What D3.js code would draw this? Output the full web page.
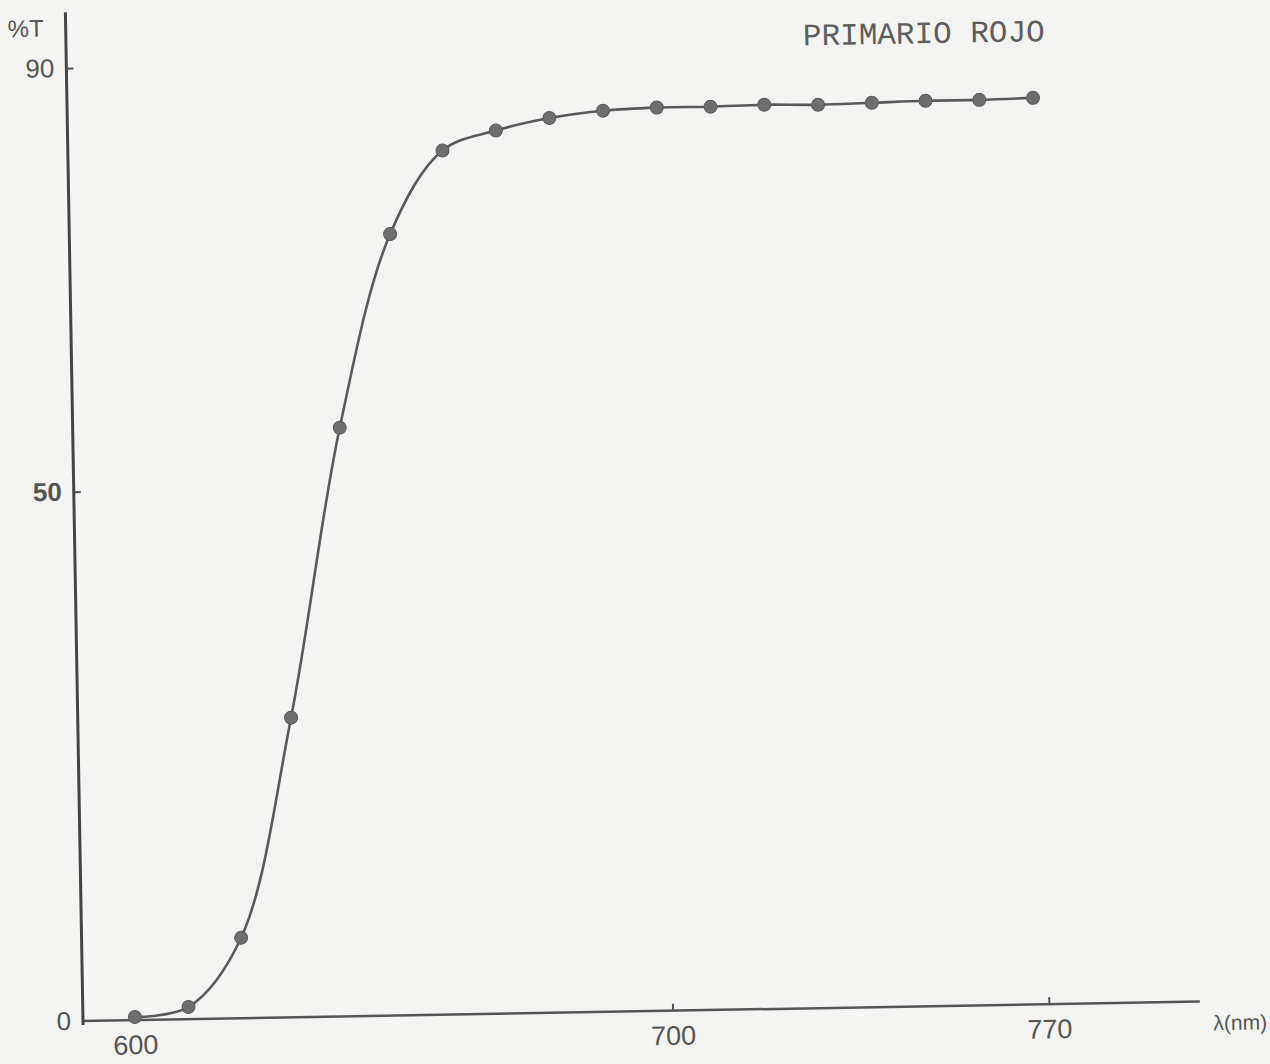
<!DOCTYPE html>
<html>
<head>
<meta charset="utf-8">
<script src="https://cdn.jsdelivr.net/npm/d3@7"></script>
<style>
  body { margin: 0; background: #f4f4f3; }
  svg { display: block; }
  .tick text { font-family: 'Liberation Sans', 'DejaVu Sans', sans-serif; fill: #555; }
</style>
</head>
<body>
<svg width="1270" height="1064"></svg>
<script>
// wavelength (nm) and transmittance (%T)
const wavelengths = [600, 610, 620, 630, 640, 650, 660, 670, 680, 690, 700, 710, 720, 730, 740, 750, 760, 770]
const transmittance = [0.3, 1.15, 7.6, 28.3, 55.6, 73.8, 81.6, 83.4, 84.5, 85.1, 85.3, 85.3, 85.4, 85.3, 85.4, 85.5, 85.5, 85.6]
const xTicks = [600, 700, 770]
const yTicks = [0, 50, 90]

const title = 'PRIMARIO ROJO'
const xAxisLabel = 'λ(nm)'
const yAxisLabel = '%T'

const data = wavelengths.map((w, i) => ({ w, t: transmittance[i] }))

const svg = d3.select('svg')

// the scanned sheet is tilted by about a degree, so the whole frame is rotated
const origin = { x: 83, y: 1021 }
const g = svg.append('g')
  .attr('transform', `translate(${origin.x}, ${origin.y}) rotate(-1)`)

const xScale = d3.scaleLinear()
  .domain([600, 770])
  .range([52, 966])

const yScale = d3.scaleLinear()
  .domain([0, 90])
  .range([0, -953])

// axis lines
g.append('line')
  .attr('x1', -1).attr('x2', 1117)
  .attr('y1', 0).attr('y2', 0)
  .attr('stroke', '#555').attr('stroke-width', 2.5)

g.append('line')
  .attr('x1', 0).attr('x2', 0)
  .attr('y1', 4).attr('y2', -1009)
  .attr('stroke', '#444').attr('stroke-width', 3)

const xAxis = d3.axisBottom(xScale)
  .tickValues(xTicks)
  .tickFormat(d3.format('d'))
  .tickSizeInner(-7)
  .tickSizeOuter(0)
  .tickPadding(15)

const xAxisGroup = g.append('g').call(xAxis)
xAxisGroup.select('.domain').remove()
xAxisGroup.selectAll('.tick line')
  .attr('stroke', '#555').attr('stroke-width', 2)
  .filter(d => d === 600).remove()
xAxisGroup.selectAll('.tick text')
  .attr('font-size', 27)

const yAxis = d3.axisLeft(yScale)
  .tickValues(yTicks)
  .tickSizeInner(-7)
  .tickSizeOuter(0)
  .tickPadding(12)

const yAxisGroup = g.append('g').call(yAxis)
yAxisGroup.select('.domain').remove()
yAxisGroup.selectAll('.tick line')
  .attr('stroke', '#555').attr('stroke-width', 2)
  .filter(d => d === 0).remove()
yAxisGroup.selectAll('.tick text')
  .attr('font-size', 26)
  .attr('font-weight', d => d === 50 ? 'bold' : 'normal')

g.append('text')
  .attr('x', 1157)
  .attr('y', 29)
  .attr('text-anchor', 'middle')
  .attr('font-family', 'Liberation Sans, sans-serif')
  .attr('font-size', 21)
  .attr('fill', '#555')
  .text(xAxisLabel)

g.append('text')
  .attr('x', -40)
  .attr('y', -985)
  .attr('text-anchor', 'middle')
  .attr('font-family', 'Liberation Sans, sans-serif')
  .attr('font-size', 24)
  .attr('fill', '#555')
  .text(yAxisLabel)

g.append('text')
  .attr('x', 737)
  .attr('y', -963)
  .attr('font-family', 'Liberation Mono, DejaVu Sans Mono, monospace')
  .attr('font-size', 31)
  .attr('fill', '#5e5e5e')
  .text(title)

const lineGenerator = d3.line()
  .x(d => xScale(d.w))
  .y(d => yScale(d.t))
  .curve(d3.curveCatmullRom.alpha(0.5))

g.append('path')
  .attr('d', lineGenerator(data))
  .attr('fill', 'none')
  .attr('stroke', '#5a5a5a')
  .attr('stroke-width', 2.6)

g.selectAll('circle')
  .data(data)
  .enter().append('circle')
  .attr('cx', d => xScale(d.w))
  .attr('cy', d => yScale(d.t))
  .attr('r', 6.5)
  .attr('fill', '#6e6e6e')
  .attr('stroke', '#5a5a5a')
  .attr('stroke-width', 1)
</script>
</body>
</html>
